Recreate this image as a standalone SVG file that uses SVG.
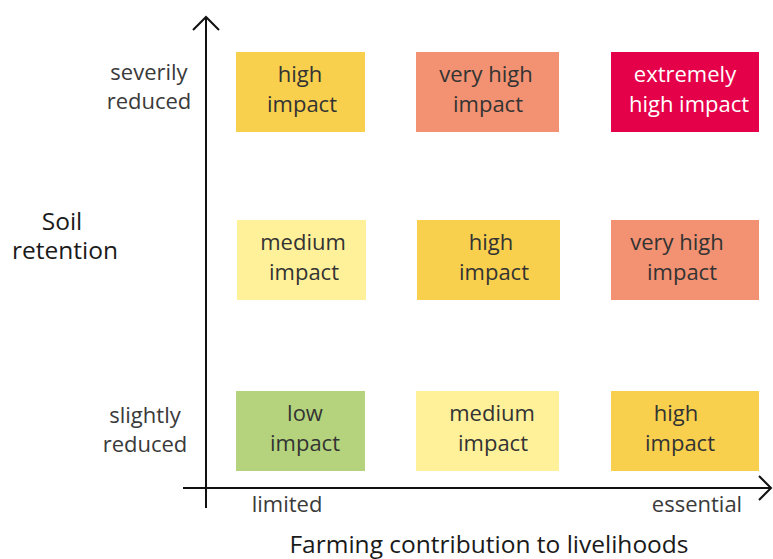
<svg xmlns="http://www.w3.org/2000/svg" width="773" height="559" viewBox="0 0 773 559">
<defs>
<style>
text{font-family:"Open Sans","Noto Sans","Liberation Sans",sans-serif;font-size:22px;fill:#333;text-anchor:middle}
.lbl{fill:#3a3a3a}
.title{fill:#1a1a1a;font-size:24.5px}
.w{fill:#fff}
.axis{stroke:#111;stroke-width:2;fill:none}
.high{fill:#F9D04E}.vh{fill:#F29272}.ex{fill:#E5004A}.med{fill:#FFF19A}.low{fill:#B4D37C}
</style>
</defs>
<rect width="773" height="559" fill="#fff"/>
<g id="connectors">
<path class="axis" d="M206 508V17M193 30L206 17L219 30"/>
<path class="axis" d="M183 488H771M759 476L771 488L759 500"/>
</g>
<g id="labels">
<text class="lbl"><tspan x="149" y="80">severily</tspan><tspan x="149" y="109">reduced</tspan></text>
<text class="title"><tspan x="62" y="230">Soil</tspan><tspan x="65" y="259">retention</tspan></text>
<text class="lbl"><tspan x="145" y="423">slightly</tspan><tspan x="145" y="452">reduced</tspan></text>
<text class="lbl" x="287" y="512">limited</text>
<text class="lbl" x="697" y="512">essential</text>
<text class="title" x="489" y="553">Farming contribution to livelihoods</text>
</g>
<g id="r1c1"><rect class="high" x="236" y="52" width="129" height="80"/><text x="300" y="82">high</text><text x="302" y="112">impact</text></g>
<g id="r1c2"><rect class="vh" x="416" y="52" width="143" height="80"/><text x="486" y="82">very high</text><text x="488" y="112">impact</text></g>
<g id="r1c3"><rect class="ex" x="611" y="52" width="148" height="80"/><text class="w" x="685" y="82">extremely</text><text class="w" x="689" y="112">high impact</text></g>
<g id="r2c1"><rect class="med" x="237" y="220" width="129" height="80"/><text x="303" y="250">medium</text><text x="304" y="280">impact</text></g>
<g id="r2c2"><rect class="high" x="417" y="220" width="143" height="80"/><text x="491" y="250">high</text><text x="494" y="280">impact</text></g>
<g id="r2c3"><rect class="vh" x="611" y="220" width="148" height="80"/><text x="677" y="250">very high</text><text x="682" y="280">impact</text></g>
<g id="r3c1"><rect class="low" x="236" y="391" width="129" height="80"/><text x="305" y="421">low</text><text x="305" y="451">impact</text></g>
<g id="r3c2"><rect class="med" x="416" y="391" width="143" height="80"/><text x="492" y="421">medium</text><text x="493" y="451">impact</text></g>
<g id="r3c3"><rect class="high" x="611" y="391" width="148" height="80"/><text x="676" y="421">high</text><text x="680" y="451">impact</text></g>
</svg>
